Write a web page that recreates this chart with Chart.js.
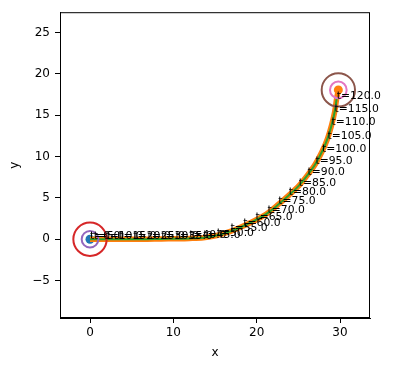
<!DOCTYPE html>
<html lang="en">
<head>
<meta charset="UTF-8">
<title>Trajectory</title>
<style>
  html, body { margin: 0; padding: 0; background: #fff; }
</style>
</head>
<body>
<canvas id="chart" width="393" height="371"></canvas>
<script src="https://cdn.jsdelivr.net/npm/chart.js"></script>
<script>
// values
var times  = [0, 5, 10, 15, 20, 25, 30, 35, 40, 45, 50, 55, 60, 65, 70, 75, 80, 85, 90, 95, 100, 105, 110, 115, 120];
var trackX = [0, 0.45, 1.85, 3.5, 5.2, 6.9, 8.55, 10.25, 11.9, 13.6, 15.2, 16.85, 18.4, 19.85, 21.3, 22.6, 23.85, 25.05, 26.1, 27.05, 27.85, 28.5, 28.98, 29.35, 29.6];
var trackY = [0, 0, 0, 0, 0, 0.01, 0.03, 0.06, 0.1, 0.18, 0.45, 0.95, 1.6, 2.3, 3.15, 4.2, 5.3, 6.45, 7.75, 9.1, 10.6, 12.15, 13.75, 15.35, 17.0];
var startPt = [0, 0];
var goalPt  = [29.8, 18.05];
var startRadii = [2, 1];   // red, purple (data units)
var goalRadii  = [2, 1];   // brown, pink
var xTicks = [0, 10, 20, 30];
var yTicks = [-5, 0, 5, 10, 15, 20, 25];

var track = trackX.map(function (x, i) { return { x: x, y: trackY[i] }; });
var trackToGoal = track.concat([{ x: goalPt[0], y: goalPt[1] }]);

function unitRadius(r) {
  return function (ctx) {
    var s = ctx.chart.scales.x;
    if (!s || !s.width) return 0;
    return Math.abs(s.getPixelForValue(r) - s.getPixelForValue(0));
  };
}

function ring(pt, r, color, w) {
  return {
    type: 'scatter',
    data: [{ x: pt[0], y: pt[1] }],
    pointRadius: unitRadius(r),
    pointBackgroundColor: 'rgba(0,0,0,0)',
    pointBorderColor: color,
    pointBorderWidth: w,
    clip: false
  };
}

var framePlugin = {
  id: 'frame',
  afterDatasetsDraw: function (chart) {
    var c = chart.ctx, a = chart.chartArea;
    var xs = chart.scales.x, ys = chart.scales.y;
    c.save();
    // t= labels
    c.fillStyle = '#000';
    c.font = '10.8px "DejaVu Sans"';
    c.textAlign = 'left';
    c.textBaseline = 'alphabetic';
    times.forEach(function (t, i) {
      c.fillText('t=' + t.toFixed(1), xs.getPixelForValue(trackX[i]), ys.getPixelForValue(trackY[i]));
    });
    // box round the axes
    c.strokeStyle = '#000';
    c.lineWidth = 1;
    c.strokeRect(a.left + 0.5, a.top + 0.5, a.right - a.left - 1, a.bottom - a.top - 1);
    c.restore();
  }
};

Chart.defaults.font.family = '"DejaVu Sans", sans-serif';
Chart.defaults.color = '#000';

var chart = new Chart(document.getElementById('chart'), {
  type: 'scatter',
  data: {
    datasets: [
      ring(startPt, startRadii[0], '#d62728', 2),
      ring(startPt, startRadii[1], '#9467bd', 2),
      ring(goalPt, goalRadii[0], '#8c564b', 2),
      ring(goalPt, goalRadii[1], '#e377c2', 2),
      {
        data: [{ x: goalPt[0], y: goalPt[1] }],
        pointRadius: 4.5,
        pointBackgroundColor: '#ff7f0e',
        pointBorderWidth: 0
      },
      {
        data: track,
        showLine: true,
        borderColor: '#2ca02c',
        borderWidth: 2,
        pointRadius: 0,
        tension: 0.3
      },
      {
        data: trackToGoal,
        showLine: true,
        borderColor: '#ff7f0e',
        borderWidth: 5.5,
        pointRadius: 0,
        tension: 0.3
      },
      {
        data: [{ x: startPt[0], y: startPt[1] }],
        pointRadius: 4.5,
        pointBackgroundColor: '#1f77b4',
        pointBorderWidth: 0
      }
    ]
  },
  options: {
    responsive: false,
    animation: false,
    events: [],
    layout: { padding: { left: 0, top: 9, right: 23, bottom: 0 } },
    plugins: { legend: { display: false }, tooltip: { enabled: false } },
    scales: {
      x: {
        type: 'linear',
        min: -3.6,
        max: 33.6,
        afterFit: function (s) { s.height = 53; },
        afterBuildTicks: function (s) { s.ticks = xTicks.map(function (v) { return { value: v }; }); },
        grid: { drawOnChartArea: false, color: '#000', tickLength: 5 },
        border: { color: '#000', width: 1 },
        ticks: { font: { size: 12 }, padding: 3, maxRotation: 0 },
        title: { display: true, text: 'x', font: { size: 12 }, padding: { top: 0, bottom: 11 } }
      },
      y: {
        type: 'linear',
        min: -9.52,
        max: 27.44,
        afterFit: function (s) { s.width = 60; },
        afterBuildTicks: function (s) { s.ticks = yTicks.map(function (v) { return { value: v }; }); },
        grid: { drawOnChartArea: false, color: '#000', tickLength: 5 },
        border: { color: '#000', width: 1 },
        ticks: {
          font: { size: 12 },
          padding: 5,
          callback: function (v) { return String(v).replace('-', '\u2212'); }
        },
        title: { display: true, text: 'y', font: { size: 12 }, padding: { top: 8, bottom: 0 } }
      }
    }
  },
  plugins: [framePlugin]
});
</script>
</body>
</html>
